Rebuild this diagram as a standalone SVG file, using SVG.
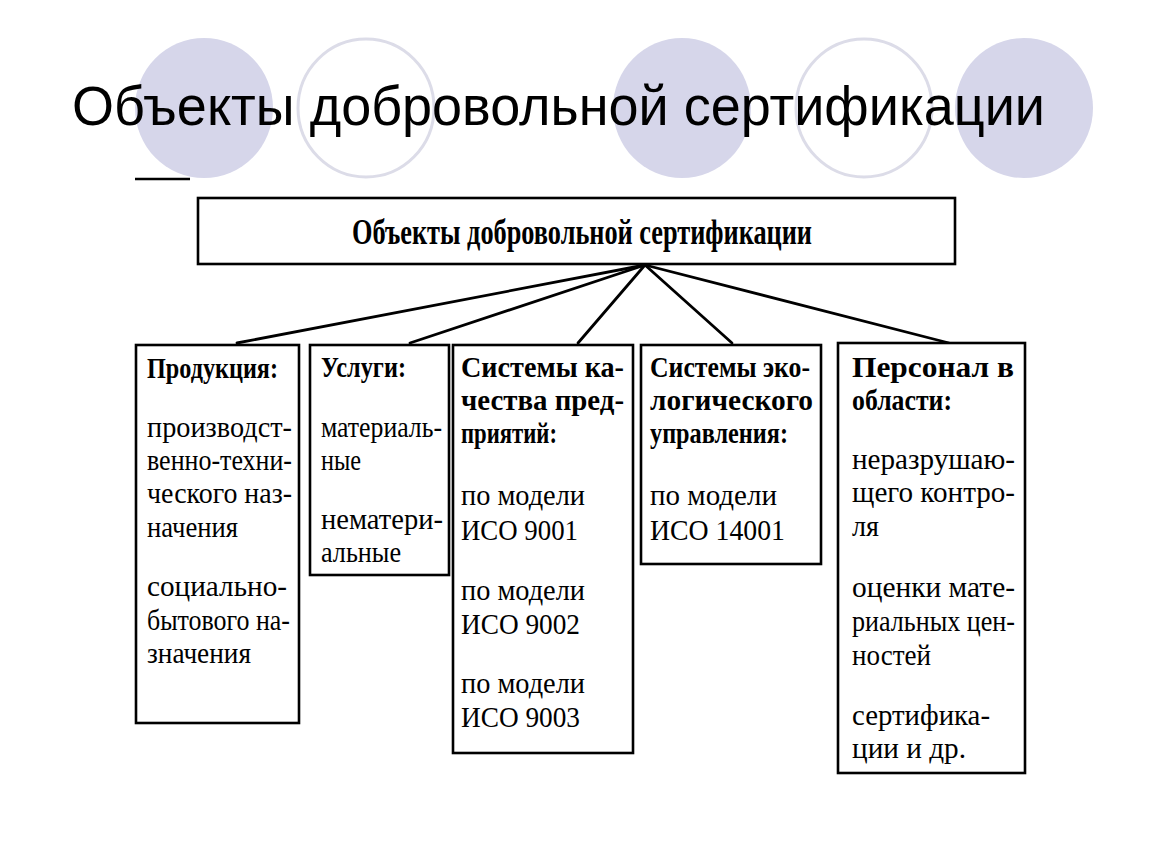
<svg xmlns="http://www.w3.org/2000/svg" width="1150" height="864" viewBox="0 0 1150 864">
<style>
.bg{fill:#ffffff}
.cf{fill:#d6d6ea;stroke:none}
.co{fill:none;stroke:#dcdce8;stroke-width:3}
.title{font-family:"Liberation Sans",Arial,sans-serif;font-size:56px;fill:#000}
.box{fill:#ffffff;stroke:#000;stroke-width:2.6}
.tx{font-family:"Liberation Serif","Times New Roman",serif;font-size:29.5px;fill:#000}
.hd{font-family:"Liberation Serif","Times New Roman",serif;font-weight:bold;font-size:29.5px;fill:#000}
.mt{font-family:"Liberation Serif","Times New Roman",serif;font-weight:bold;font-size:36px;fill:#000}
.ln{stroke:#000;stroke-width:2.8;fill:none;stroke-linecap:round}
</style>
<rect class="bg" x="0" y="0" width="1150" height="864"/>
<g id="decor">
<ellipse class="cf" cx="204" cy="108" rx="69" ry="70"/>
<ellipse class="co" cx="366" cy="108" rx="68" ry="69"/>
<ellipse class="cf" cx="682" cy="108" rx="69" ry="70"/>
<ellipse class="co" cx="864" cy="108" rx="68" ry="69"/>
<ellipse class="cf" cx="1024" cy="108" rx="69" ry="70"/>
<line x1="135" y1="179" x2="190" y2="179" stroke="#000" stroke-width="2.5"/>
</g>
<text class="title" x="72" y="125" textLength="973" lengthAdjust="spacingAndGlyphs">Объекты добровольной сертификации</text>
<g id="connectors">
<line class="ln" x1="645" y1="265" x2="237" y2="343"/>
<line class="ln" x1="645" y1="265" x2="410" y2="343"/>
<line class="ln" x1="645" y1="265" x2="578" y2="343"/>
<line class="ln" x1="645" y1="265" x2="732" y2="343"/>
<line class="ln" x1="645" y1="265" x2="949" y2="343"/>
</g>
<g id="root">
<rect class="box" x="198" y="198" width="757" height="66"/>
<text class="mt" x="352" y="244" textLength="460" lengthAdjust="spacingAndGlyphs">Объекты добровольной сертификации</text>
</g>
<g id="node-products">
<rect class="box" x="136" y="345" width="163" height="378"/>
<text class="hd" x="147" y="378" textLength="131" lengthAdjust="spacingAndGlyphs">Продукция:</text>
<text class="tx" x="147" y="437" textLength="145" lengthAdjust="spacingAndGlyphs">производст-</text>
<text class="tx" x="147" y="470" textLength="145" lengthAdjust="spacingAndGlyphs">венно-техни-</text>
<text class="tx" x="147" y="503" textLength="145" lengthAdjust="spacingAndGlyphs">ческого наз-</text>
<text class="tx" x="147" y="537" textLength="91" lengthAdjust="spacingAndGlyphs">начения</text>
<text class="tx" x="147" y="596" textLength="140" lengthAdjust="spacingAndGlyphs">социально-</text>
<text class="tx" x="147" y="630" textLength="143" lengthAdjust="spacingAndGlyphs">бытового на-</text>
<text class="tx" x="147" y="663" textLength="104" lengthAdjust="spacingAndGlyphs">значения</text>
</g>
<g id="node-services">
<rect class="box" x="310" y="345" width="139" height="230"/>
<text class="hd" x="321" y="377" textLength="85" lengthAdjust="spacingAndGlyphs">Услуги:</text>
<text class="tx" x="321" y="437" textLength="121" lengthAdjust="spacingAndGlyphs">материаль-</text>
<text class="tx" x="321" y="470" textLength="40" lengthAdjust="spacingAndGlyphs">ные</text>
<text class="tx" x="321" y="529" textLength="122" lengthAdjust="spacingAndGlyphs">нематери-</text>
<text class="tx" x="321" y="562" textLength="80" lengthAdjust="spacingAndGlyphs">альные</text>
</g>
<g id="node-quality">
<rect class="box" x="453" y="345" width="180" height="408"/>
<text class="hd" x="461" y="377" textLength="163" lengthAdjust="spacingAndGlyphs">Системы ка-</text>
<text class="hd" x="461" y="410" textLength="163" lengthAdjust="spacingAndGlyphs">чества пред-</text>
<text class="hd" x="461" y="443" textLength="96" lengthAdjust="spacingAndGlyphs">приятий:</text>
<text class="tx" x="461" y="505" textLength="124" lengthAdjust="spacingAndGlyphs">по модели</text>
<text class="tx" x="461" y="540" textLength="117" lengthAdjust="spacingAndGlyphs">ИСО 9001</text>
<text class="tx" x="461" y="600" textLength="124" lengthAdjust="spacingAndGlyphs">по модели</text>
<text class="tx" x="461" y="634" textLength="119" lengthAdjust="spacingAndGlyphs">ИСО 9002</text>
<text class="tx" x="461" y="693" textLength="124" lengthAdjust="spacingAndGlyphs">по модели</text>
<text class="tx" x="461" y="727" textLength="119" lengthAdjust="spacingAndGlyphs">ИСО 9003</text>
</g>
<g id="node-eco">
<rect class="box" x="641" y="345" width="180" height="219"/>
<text class="hd" x="650" y="377" textLength="160" lengthAdjust="spacingAndGlyphs">Системы эко-</text>
<text class="hd" x="650" y="410" textLength="163" lengthAdjust="spacingAndGlyphs">логического</text>
<text class="hd" x="650" y="443" textLength="138" lengthAdjust="spacingAndGlyphs">управления:</text>
<text class="tx" x="650" y="505" textLength="127" lengthAdjust="spacingAndGlyphs">по модели</text>
<text class="tx" x="650" y="540" textLength="135" lengthAdjust="spacingAndGlyphs">ИСО 14001</text>
</g>
<g id="node-personnel">
<rect class="box" x="838" y="343" width="187" height="430"/>
<text class="hd" x="852" y="377" textLength="162" lengthAdjust="spacingAndGlyphs">Персонал в</text>
<text class="hd" x="852" y="410" textLength="100" lengthAdjust="spacingAndGlyphs">области:</text>
<text class="tx" x="852" y="469" textLength="163" lengthAdjust="spacingAndGlyphs">неразрушаю-</text>
<text class="tx" x="852" y="502" textLength="163" lengthAdjust="spacingAndGlyphs">щего контро-</text>
<text class="tx" x="852" y="536" textLength="27" lengthAdjust="spacingAndGlyphs">ля</text>
<text class="tx" x="852" y="597" textLength="163" lengthAdjust="spacingAndGlyphs">оценки мате-</text>
<text class="tx" x="852" y="631" textLength="163" lengthAdjust="spacingAndGlyphs">риальных цен-</text>
<text class="tx" x="852" y="665" textLength="79" lengthAdjust="spacingAndGlyphs">ностей</text>
<text class="tx" x="852" y="725" textLength="138" lengthAdjust="spacingAndGlyphs">сертифика-</text>
<text class="tx" x="852" y="758" textLength="114" lengthAdjust="spacingAndGlyphs">ции и др.</text>
</g>
</svg>
